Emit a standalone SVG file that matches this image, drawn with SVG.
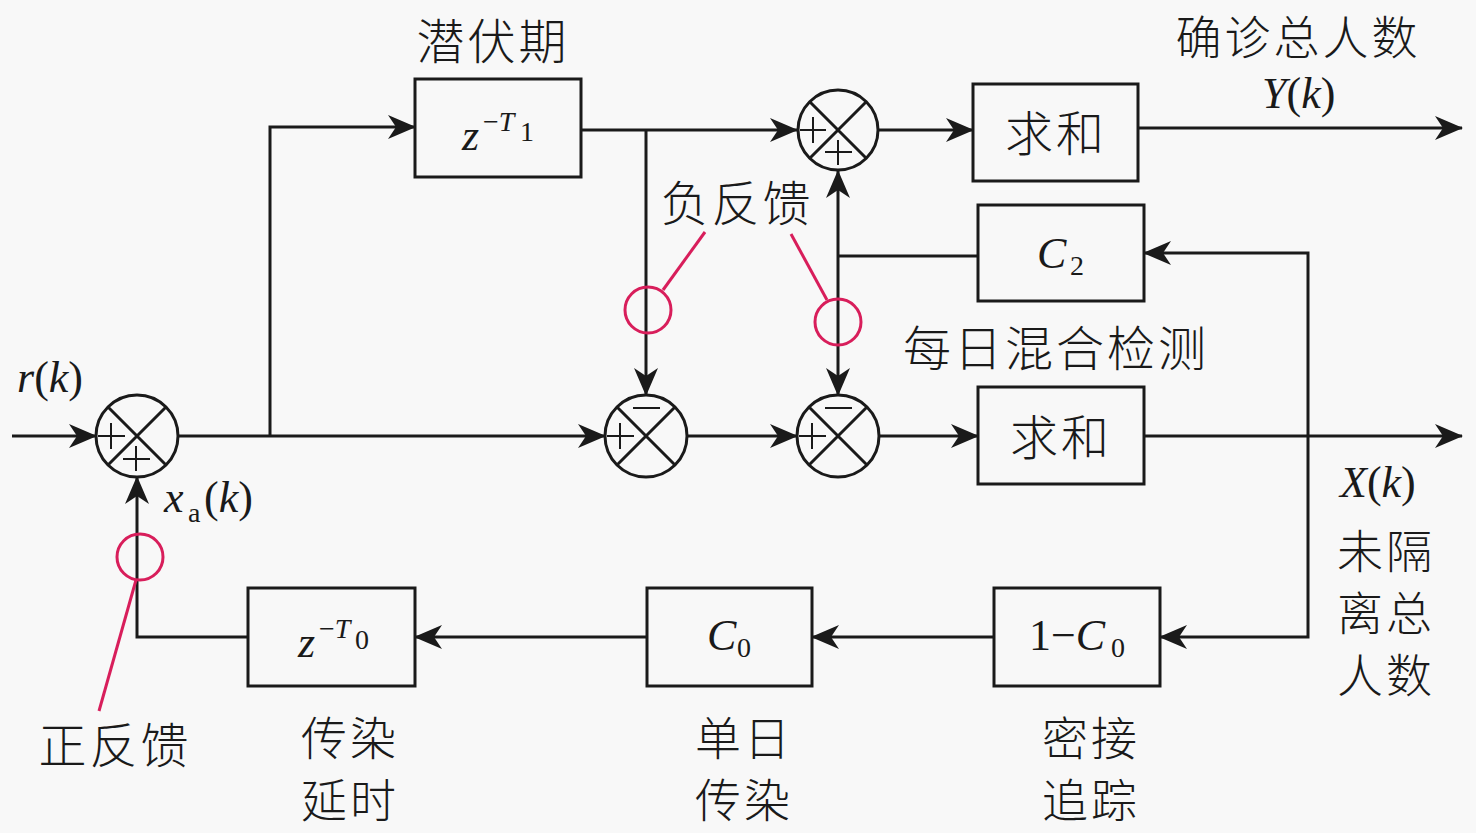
<svg xmlns="http://www.w3.org/2000/svg" width="1476" height="833" viewBox="0 0 1476 833">
<style>
.bg{fill:#f8f8f8}
.box{fill:none;stroke:#1a1a1a;stroke-width:3}
.sum{fill:none;stroke:#1a1a1a;stroke-width:3}
.sign{stroke:#1a1a1a;stroke-width:2;fill:none}
.ln{fill:none;stroke:#1a1a1a;stroke-width:3}
.lna{fill:none;stroke:#1a1a1a;stroke-width:3;marker-end:url(#ah)}
.red{fill:none;stroke:#d81e5b;stroke-width:3}
.cn{font-family:"Noto Sans CJK SC","Noto Sans CJK JP",sans-serif;font-size:48px;font-weight:300;fill:#1a1a1a;text-anchor:middle;dominant-baseline:central;letter-spacing:3px}
.cn2{font-size:46px}
.m{font-family:"Liberation Serif",serif;font-size:44px;fill:#1a1a1a}
.i{font-style:italic}
.sub{font-family:"Liberation Serif",serif;font-size:28px;fill:#1a1a1a}
</style>
<defs>
<marker id="ah" markerUnits="userSpaceOnUse" viewBox="0 0 28 24" markerWidth="28" markerHeight="24" refX="27" refY="12" orient="auto">
<path d="M0,0 L28,12 L0,24 L8,12 Z" fill="#1a1a1a"/>
</marker>
</defs>
<rect class="bg" x="0" y="0" width="1476" height="833"/>

<g id="connectors">
<path class="lna" d="M12,436 H96"/>
<path class="lna" d="M178,436 H605"/>
<path class="lna" d="M270,436 V127 H415"/>
<path class="lna" d="M581,130 H797"/>
<path class="lna" d="M646,130 V395"/>
<path class="lna" d="M687,436 H797"/>
<path class="lna" d="M879,436 H978"/>
<path class="lna" d="M1144,436 H1462"/>
<path class="lna" d="M879,130 H973"/>
<path class="lna" d="M1138,128 H1462"/>
<path class="ln" d="M978,256 H838"/>
<path class="lna" d="M838,256 V171"/>
<path class="lna" d="M838,256 V395"/>
<path class="lna" d="M1308,436 V253 H1144"/>
<path class="lna" d="M1308,436 V637 H1160"/>
<path class="lna" d="M994,637 H812"/>
<path class="lna" d="M647,637 H415"/>
<path class="lna" d="M248,637 H137 V477"/>
</g>

<g id="sum1">
<circle class="sum" cx="137" cy="436" r="41"/>
<path class="sum" d="M108,407 L166,465 M166,407 L108,465"/>
<path class="sign" d="M98,436 H125 M111,423 V449 M123,459 H150 M136,446 V471"/>
</g>
<g id="sum2">
<circle class="sum" cx="646" cy="436" r="41"/>
<path class="sum" d="M617,407 L675,465 M675,407 L617,465"/>
<path class="sign" d="M607,436 H634 M620,423 V449 M633,408 H660"/>
</g>
<g id="sum3">
<circle class="sum" cx="838" cy="436" r="41"/>
<path class="sum" d="M809,407 L867,465 M867,407 L809,465"/>
<path class="sign" d="M799,436 H826 M812,423 V449 M825,408 H852"/>
</g>
<g id="sum4">
<circle class="sum" cx="838" cy="130" r="40"/>
<path class="sum" d="M810,102 L866,158 M866,102 L810,158"/>
<path class="sign" d="M800,130 H826 M813,117 V143 M825,152 H852 M838,140 V165"/>
</g>

<g id="delayT1">
<rect class="box" x="415" y="79" width="166" height="98"/>
<text class="m i" x="462" y="150">z</text>
<text class="sub" x="483" y="131">−<tspan font-style="italic">T</tspan></text>
<text class="sub" x="520" y="141" font-size="20">1</text>
</g>
<g id="sumY">
<rect class="box" x="973" y="84" width="165" height="97"/>
<text class="cn" x="1056" y="130">求和</text>
</g>
<g id="C2">
<rect class="box" x="978" y="205" width="166" height="96"/>
<text class="m i" x="1037" y="268">C</text>
<text class="sub" x="1070" y="275">2</text>
</g>
<g id="sumX">
<rect class="box" x="978" y="387" width="166" height="97"/>
<text class="cn" x="1061" y="434">求和</text>
</g>
<g id="delayT0">
<rect class="box" x="248" y="588" width="167" height="98"/>
<text class="m i" x="298" y="657">z</text>
<text class="sub" x="319" y="638">−<tspan font-style="italic">T</tspan></text>
<text class="sub" x="355" y="649" font-size="22">0</text>
</g>
<g id="C0">
<rect class="box" x="647" y="588" width="165" height="98"/>
<text class="m i" x="707" y="650">C</text>
<text class="sub" x="737" y="657">0</text>
</g>
<g id="oneMinusC0">
<rect class="box" x="994" y="588" width="166" height="98"/>
<text class="m" x="1029" y="650">1−<tspan font-style="italic">C</tspan></text>
<text class="sub" x="1111" y="657">0</text>
</g>

<g id="annotations">
<circle class="red" cx="648" cy="310" r="23"/>
<path class="red" d="M663,290 L705,232"/>
<circle class="red" cx="838" cy="322" r="23"/>
<path class="red" d="M827,300 L791,234"/>
<circle class="red" cx="140" cy="557" r="23"/>
<path class="red" d="M136,580 L99,711"/>
</g>

<g id="labels">
<text class="cn" x="493" y="38">潜伏期</text>
<text class="cn" x="737" y="200">负反馈</text>
<text class="cn" x="1056" y="345">每日混合检测</text>
<text class="cn cn2" x="1298" y="34">确诊总人数</text>
<text class="m" x="1262" y="108"><tspan font-style="italic">Y</tspan>(<tspan font-style="italic">k</tspan>)</text>
<text class="m" x="17" y="392"><tspan font-style="italic">r</tspan>(<tspan font-style="italic">k</tspan>)</text>
<text class="m" x="164" y="512"><tspan font-style="italic">x</tspan></text>
<text class="sub" x="188" y="522">a</text>
<text class="m" x="204" y="512">(<tspan font-style="italic">k</tspan>)</text>
<text class="m" x="1340" y="497"><tspan font-style="italic">X</tspan>(<tspan font-style="italic">k</tspan>)</text>
<text class="cn cn2" x="1386" y="548">未隔</text>
<text class="cn cn2" x="1386" y="610">离总</text>
<text class="cn cn2" x="1386" y="672">人数</text>
<text class="cn" x="115" y="742">正反馈</text>
<text class="cn cn2" x="350" y="735">传染</text>
<text class="cn cn2" x="350" y="797">延时</text>
<text class="cn cn2" x="744" y="735">单日</text>
<text class="cn cn2" x="744" y="797">传染</text>
<text class="cn cn2" x="1091" y="735">密接</text>
<text class="cn cn2" x="1091" y="797">追踪</text>
</g>
</svg>
